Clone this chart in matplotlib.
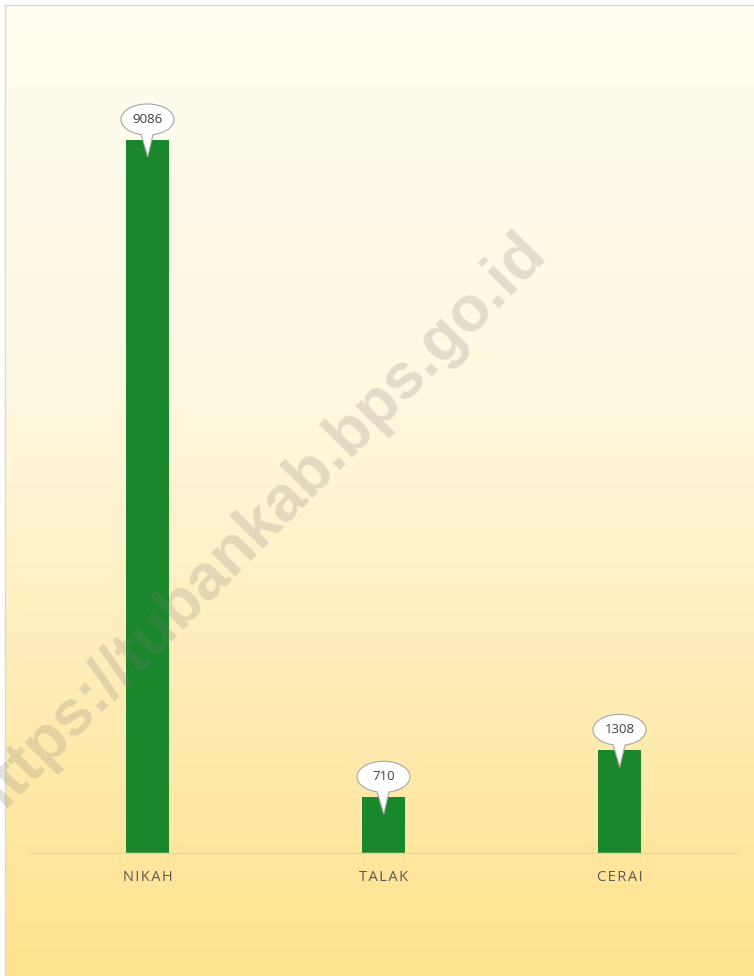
import numpy as np
import matplotlib
matplotlib.use("Agg")
import matplotlib.pyplot as plt
from matplotlib.colors import LinearSegmentedColormap
from matplotlib.path import Path
from matplotlib.patches import PathPatch
from matplotlib.transforms import Affine2D

categories = ["NIKAH", "TALAK", "CERAI"]
values = [9086, 710, 1308]

W, H = 754, 976
fig = plt.figure(figsize=(W / 100, H / 100), dpi=100)
fig.patch.set_facecolor("white")

# panel background with vertical gradient
bg = fig.add_axes([5 / W, 0, 1 - 5 / W, 1 - 5 / H])
cmap = LinearSegmentedColormap.from_list(
    "bg", [(0, "#FFE28D"), (0.6, "#FFF8E0"), (1.0, "#FFFDF0")])
grad = np.linspace(0, 1, 256).reshape(-1, 1)
bg.imshow(grad, aspect="auto", cmap=cmap, origin="lower", extent=[0, 1, 0, 1])
bg.set_xlim(0, 1)
bg.set_ylim(0, 1)
bg.set_xticks([])
bg.set_yticks([])
for s in ["right", "bottom"]:
    bg.spines[s].set_visible(False)
for s in ["left", "top"]:
    bg.spines[s].set_color("#D9D9D9")
    bg.spines[s].set_linewidth(1)

ax_left, ax_right = 29.5, 737.5
base_y, top_y = 853, 40
ax = fig.add_axes([ax_left / W, (H - base_y) / H, (ax_right - ax_left) / W, (base_y - top_y) / H])
ax.patch.set_alpha(0)
x = np.arange(len(categories))
bars = ax.bar(x, values, width=0.182, color="#1B872C", zorder=2)
ax.set_xlim(-0.5, 2.5)
ax.set_ylim(0, 10360)
ax.set_yticks([])
ax.set_xticks(x)
ax.set_xticklabels(["\u200a".join(c) for c in categories], family=["Open Sans", "DejaVu Sans"],
                   fontsize=10.5, color="#595959")
ax.tick_params(axis="x", length=0, pad=12)
for s in ["left", "right", "top"]:
    ax.spines[s].set_visible(False)
ax.spines["bottom"].set_color("#E3D7A8")
ax.spines["bottom"].set_linewidth(1)

# callout bubble shape (pixels, relative to ellipse centre)
a, b = 26.5, 15.5
t = np.radians(np.linspace(-78, 256, 80))
pts = list(zip(a * np.cos(t), b * np.sin(t)))
pts.append((0.3, -37.5))
pts.append(pts[0])
codes = [Path.MOVETO] + [Path.LINETO] * (len(pts) - 2) + [Path.CLOSEPOLY]
bubble = Path(pts, codes)

fig.canvas.draw()
for xi, v in zip(x, values):
    px, py = ax.transData.transform((xi, v))
    cx, cy = px, py + 20.5
    patch = PathPatch(bubble, facecolor="white", edgecolor="#A6A6A6", lw=0.8,
                      transform=Affine2D().translate(cx, cy), zorder=5)
    fig.add_artist(patch)
    fig.text(cx / W, cy / H, str(v), ha="center", va="center", fontsize=9.5,
             color="#404040", family=["Open Sans", "DejaVu Sans"], zorder=6)

# watermark
fig.text(256 / W, (H - 527) / H, "https://tubankab.bps.go.id", rotation=45.5,
         ha="center", va="center", fontsize=46, fontweight="bold",
         family=["Liberation Sans", "DejaVu Sans"], color="#7A7A7A", alpha=0.22,
         rotation_mode="anchor", zorder=10)

fig.savefig("out.png", dpi=100)
